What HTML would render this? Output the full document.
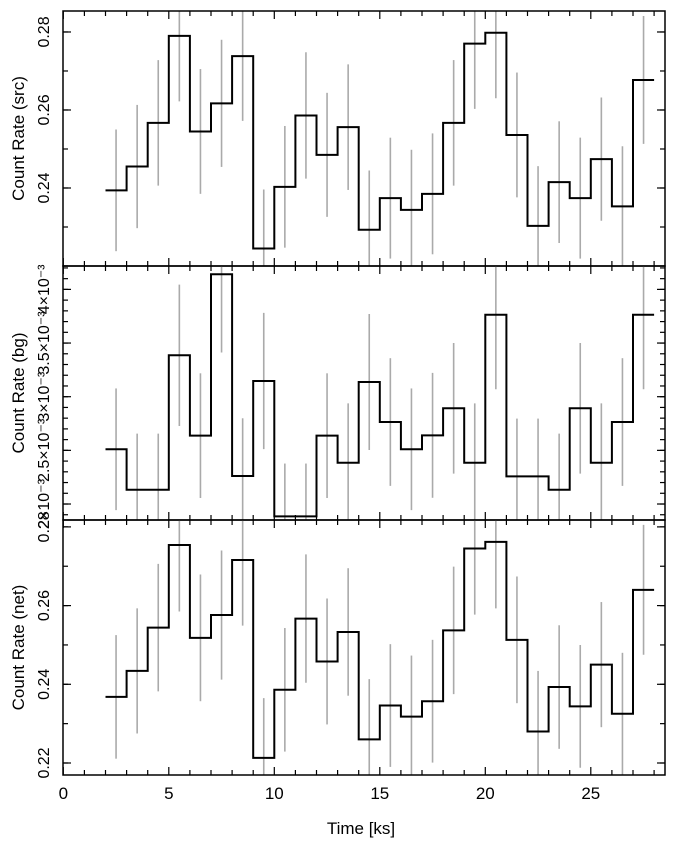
<!DOCTYPE html>
<html><head><meta charset="utf-8"><style>
html,body{margin:0;padding:0;background:#fff;}
svg{display:block;font-family:"Liberation Sans",sans-serif;}
</style></head><body>
<svg id="chart" width="676" height="846" viewBox="0 0 676 846"></svg>
<script>
const binStarts = [2,3,4,5,6,7,8,9,10,11,12,13,14,15,16,17,18,19,20,21,22,23,24,25,26,27];
const srcRate = [0.2394,0.2455,0.2567,0.2790,0.2545,0.2617,0.2738,0.2245,0.2403,0.2586,0.2485,0.2556,0.2293,0.2374,0.2344,0.2385,0.2567,0.2770,0.2798,0.2536,0.2303,0.2415,0.2374,0.2474,0.2353,0.2677];
const srcErr = [0.0156,0.0158,0.0161,0.0168,0.0160,0.0163,0.0166,0.0151,0.0156,0.0162,0.0159,0.0161,0.0152,0.0155,0.0154,0.0155,0.0161,0.0167,0.0168,0.0160,0.0153,0.0156,0.0155,0.0158,0.0154,0.0164];
const bgRate = [2.51,2.133,2.133,3.386,2.637,4.141,2.261,3.146,1.885,1.885,2.637,2.385,3.137,2.764,2.51,2.64,2.892,2.385,3.764,2.258,2.258,2.133,2.892,2.385,2.764,3.764];
const bgErr = [0.567,0.523,0.523,0.659,0.581,0.729,0.538,0.635,0.492,0.492,0.581,0.553,0.634,0.595,0.567,0.582,0.609,0.553,0.695,0.538,0.538,0.523,0.609,0.553,0.595,0.695];
const netRate = [0.2368,0.2434,0.2544,0.2754,0.2518,0.2576,0.2716,0.2213,0.2386,0.2567,0.2458,0.2533,0.2260,0.2346,0.2318,0.2357,0.2537,0.2745,0.2762,0.2513,0.2280,0.2393,0.2344,0.2450,0.2325,0.2640];
const netErr = [0.0157,0.0159,0.0162,0.0169,0.0161,0.0164,0.0167,0.0152,0.0157,0.0163,0.0160,0.0162,0.0153,0.0156,0.0155,0.0156,0.0162,0.0168,0.0169,0.0161,0.0154,0.0157,0.0156,0.0159,0.0155,0.0165];
const xTicks = [0,5,10,15,20,25];
const srcTicks = [0.24,0.26,0.28];
const bgTicks = [2,2.5,3,3.5,4];
const bgTickLabels = ["2×10⁻³","2.5×10⁻³","3×10⁻³","3.5×10⁻³","4×10⁻³"];
const netTicks = [0.22,0.24,0.26,0.28];

const NS="http://www.w3.org/2000/svg";
const svg=document.getElementById('chart');
const L=63, R=665, X0=63.3, XS=21.1;
const xs = t => X0 + t*XS;
function mk(tag, attrs, parent){const e=document.createElementNS(NS,tag);for(const k in attrs)e.setAttribute(k,attrs[k]);(parent||svg).appendChild(e);return e;}

const panels = [
 {name:'src', top:11, bot:266, min:0.22, max:0.28538, rate:srcRate, err:srcErr, major:srcTicks, labels:srcTicks.map(v=>v.toFixed(2)), minorStep:0.01, minorFrom:0.22, minorTo:0.29, title:'Count Rate (src)'},
 {name:'bg', top:266, bot:520, min:1.851, max:4.218, rate:bgRate, err:bgErr, major:bgTicks, labels:bgTickLabels, minorStep:0.1, minorFrom:1.9, minorTo:4.2, title:'Count Rate (bg)'},
 {name:'net', top:520, bot:775, min:0.21695, max:0.28175, rate:netRate, err:netErr, major:netTicks, labels:netTicks.map(v=>v.toFixed(2)), minorStep:0.01, minorFrom:0.22, minorTo:0.28, title:'Count Rate (net)'}
];

panels.forEach((p,pi)=>{
  const ys = v => p.bot - (v-p.min)/(p.max-p.min)*(p.bot-p.top);
  const g = mk('g',{});
  
  
  const cid='clip'+pi;
  const cp=mk('clipPath',{id:cid},g); mk('rect',{x:L,y:p.top,width:R-L,height:p.bot-p.top},cp);
  const data = mk('g',{'clip-path':'url(#'+cid+')'},g);
  // error bars
  binStarts.forEach((b,i)=>{
    const cx = xs(b+0.5);
    const e = mk('line',{x1:cx,x2:cx,y1:ys(p.rate[i]+p.err[i]),y2:ys(p.rate[i]-p.err[i]),stroke:'#aaaaaa','stroke-width':1.6},data);
    
    
  });
  // step line
  let d='';
  binStarts.forEach((b,i)=>{
    const y=ys(p.rate[i]);
    d += (i===0?'M':'L')+xs(b)+','+y+' L'+xs(b+1)+','+y+' ';
  });
  const path = mk('path',{d:d,fill:'none',stroke:'#000','stroke-width':2},data);
  
  
  // frame
  const fr = mk('rect',{x:L,y:p.top,width:R-L,height:p.bot-p.top,fill:'none',stroke:'#000','stroke-width':1.5},g);
  
  
  // x ticks
  for(let t=0;t<=28;t++){
    const len = (t%5===0)?8:5; const x=xs(t);
    mk('line',{x1:x,x2:x,y1:p.bot,y2:p.bot-len,stroke:'#000','stroke-width':1.2},g);
    mk('line',{x1:x,x2:x,y1:p.top,y2:p.top+len,stroke:'#000','stroke-width':1.2},g);
  }
  // y minor ticks
  for(let v=p.minorFrom; v<=p.minorTo+1e-9; v+=p.minorStep){
    const y=ys(v); if(y<p.top-0.5||y>p.bot+0.5) continue;
    mk('line',{x1:L,x2:L+5,y1:y,y2:y,stroke:'#000','stroke-width':1.2},g);
    mk('line',{x1:R,x2:R-5,y1:y,y2:y,stroke:'#000','stroke-width':1.2},g);
  }
  // y major ticks + labels
  p.major.forEach((v,i)=>{
    const y=ys(v);
    mk('line',{x1:L,x2:L+8,y1:y,y2:y,stroke:'#000','stroke-width':1.2},g);
    mk('line',{x1:R,x2:R-8,y1:y,y2:y,stroke:'#000','stroke-width':1.2},g);
    const tx = mk('text',{x:0,y:0,transform:'translate(49,'+y+') rotate(-90)','text-anchor':'middle','font-size':16,fill:'#000'},g);
    tx.textContent = p.labels[i];
    
    
  });
  const tt = mk('text',{x:0,y:0,transform:'translate(24,'+((p.top+p.bot)/2)+') rotate(-90)','text-anchor':'middle','font-size':17,fill:'#000'},g);
  tt.textContent = p.title;
  
  
});
xTicks.forEach(t=>{
  const tx = mk('text',{x:xs(t),y:799,'text-anchor':'middle','font-size':17,fill:'#000'});
  tx.textContent = String(t);
  
  
});
const xt = mk('text',{x:361,y:834,'text-anchor':'middle','font-size':17,fill:'#000'});
xt.textContent='Time [ks]';


</script>
</body></html>
